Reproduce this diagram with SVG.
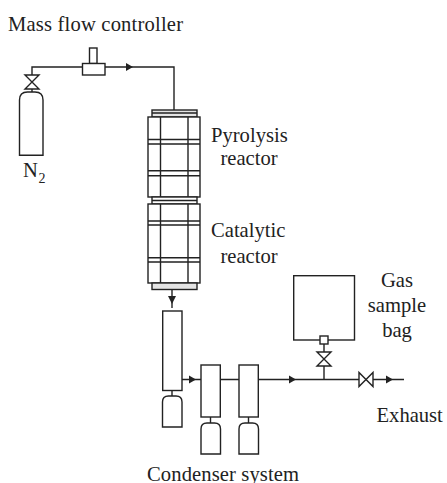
<svg xmlns="http://www.w3.org/2000/svg" width="447" height="483" viewBox="0 0 447 483">
<style>
.s{fill:none;stroke:#222;stroke-width:1.4}
.w{fill:#fff;stroke:#222;stroke-width:1.4}
.g{fill:#e4e4e4;stroke:#222;stroke-width:1.4}
.t{fill:#222;stroke:none}
text{font-family:"Liberation Serif","Times New Roman",serif;font-size:20.600px;fill:#222}
</style>
<defs>
<path id="vv" class="w" d="M-7 0H7L-7 14H7Z"/>
<path id="vh" class="w" d="M0 -7V7L14 -7V7Z"/>
<path id="ar" class="t" d="M-3 -4L4 0L-3 4Z"/>
<path id="ad" class="t" d="M-4 -3H4L0 5Z"/>
<path id="bot" class="w" d="M0 31V6Q0 0 6 0H13.500Q19.500 0 19.500 6V31Z"/>
</defs>
<g id="connectors">
<path class="s" d="M32 75V67H82.500M105 67H174V110"/>
<path class="s" d="M32 89V92"/>
<path class="s" d="M172 289.500V308"/>
<path class="s" d="M182 379.500H201M220 379.500H239M258 379.500H359M372.500 379.500H404"/>
<path class="s" d="M324 344V352M324 366V379.500"/>
<path class="s" d="M172 390.500V396M210.500 417V423M248.500 417V423"/>
<use href="#ar" x="129" y="67"/>
<use href="#ad" x="172" y="299"/>
<use href="#ar" x="192" y="379.500"/>
<use href="#ar" x="292" y="379.500"/>
<use href="#ar" x="389" y="379.500"/>
</g>
<g id="cylinder">
<path class="w" d="M19.500 155.300V100Q19.500 92 27.500 92H35Q43 92 43 100V155.300Z"/>
<use href="#vv" x="32" y="75"/>
<text x="23" y="176.700">N</text>
<text x="38.500" y="182.700" style="font-size:14px">2</text>
</g>
<g id="mfc">
<rect class="w" x="89.500" y="48" width="7.500" height="15.500"/>
<rect class="w" x="82.500" y="63.500" width="22.500" height="11.500"/>
<text x="8" y="31" textLength="175">Mass flow controller</text>
</g>
<g id="pyrolysis">
<rect class="g" x="152" y="110" width="45" height="7"/>
<path class="s" d="M152 113H197"/>
<rect class="w" x="148" y="117" width="52" height="80"/>
<path class="s" d="M160.500 117V197M188 117V197M148 139.500H200M148 144H200M148 170.700H200M148 175.700H200"/>
<rect class="w" x="152" y="197" width="45" height="7"/>
<path class="s" d="M152 200.500H197"/>
<text x="211" y="141.500">Pyrolysis</text>
<text x="249" y="165" text-anchor="middle">reactor</text>
</g>
<g id="catalytic">
<rect class="w" x="148" y="204" width="52" height="79"/>
<path class="s" d="M160.500 204V283M188 204V283M148 221H200M148 225H200M148 257.700H200M148 262H200"/>
<rect class="g" x="152" y="283" width="45" height="6.500"/>
<text x="211" y="236.700">Catalytic</text>
<text x="249" y="262.700" text-anchor="middle">reactor</text>
</g>
<g id="condenser1">
<rect class="w" x="162.700" y="311" width="19.300" height="79.500"/>
<use href="#bot" x="162.500" y="396"/>
</g>
<g id="condenser2">
<rect class="w" x="201" y="365" width="19.300" height="52"/>
<use href="#bot" x="201" y="423"/>
</g>
<g id="condenser3">
<rect class="w" x="239" y="365" width="19.300" height="52"/>
<use href="#bot" x="239" y="423"/>
<text x="147" y="480.500" textLength="152">Condenser system</text>
</g>
<g id="bag">
<rect class="w" x="293.700" y="275.700" width="60.800" height="64.300"/>
<rect class="w" x="320" y="336" width="8" height="8"/>
<use href="#vv" x="324" y="352"/>
<text x="397" y="286.700" text-anchor="middle">Gas</text>
<text x="397" y="311.700" text-anchor="middle">sample</text>
<text x="397" y="337.300" text-anchor="middle">bag</text>
</g>
<g id="exhaust">
<use href="#vh" x="359" y="379.500"/>
<text x="376.500" y="421.700">Exhaust</text>
</g>
</svg>
